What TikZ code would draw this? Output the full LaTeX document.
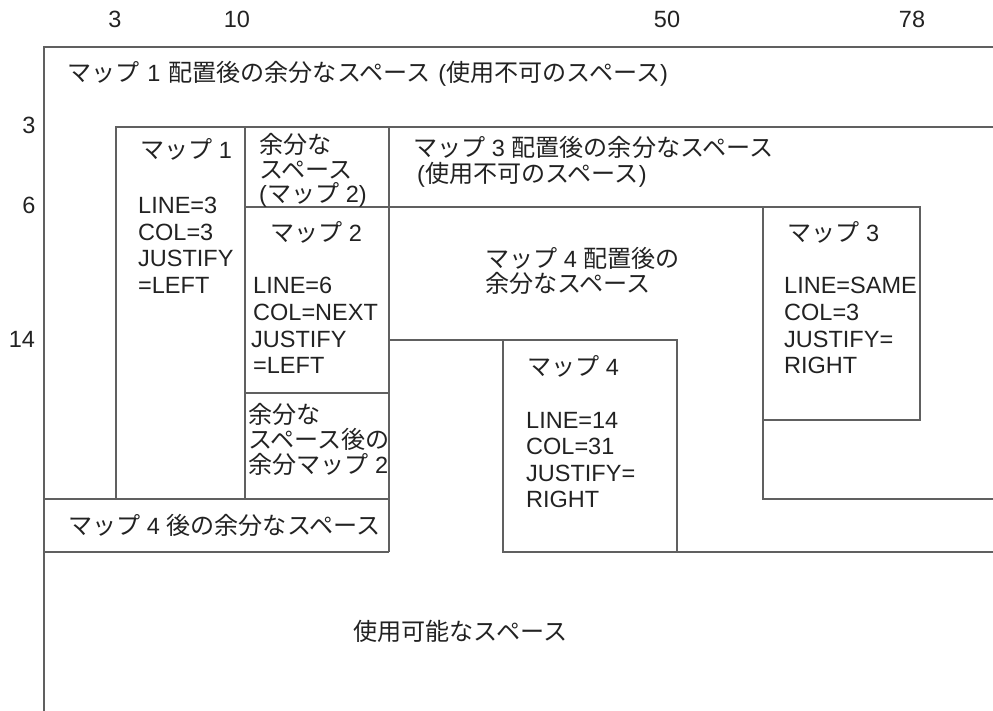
\documentclass[tikz,border=0pt]{standalone}
\usepackage{fontspec}
\setmainfont{Liberation Sans}
\newfontfamily\jp[Scale=1.025]{Noto Sans CJK JP}
\definecolor{ln}{HTML}{606060}
\definecolor{tx}{HTML}{222222}
\begin{document}
\begin{tikzpicture}[x=1pt,y=-1pt,
  lnk/.style={draw=ln,line width=1.4pt},
  lt/.style={anchor=base west,inner sep=0pt,text=tx,font=\fontsize{23.5}{26}\selectfont},
  num/.style={anchor=base,inner sep=0pt,text=tx,font=\fontsize{23.5}{26}\selectfont}]
\useasboundingbox (0,0) rectangle (993,711);
% frame lines
\draw[lnk] (44,711) -- (44,47) -- (993,47);
\draw[lnk] (993,127) -- (116,127) -- (116,499);
\draw[lnk] (245,127) -- (245,499);
\draw[lnk] (389,127) -- (389,552);
\draw[lnk] (245,207) -- (920,207) -- (920,420) -- (763,420);
\draw[lnk] (763,207) -- (763,499) -- (993,499);
\draw[lnk] (245,393) -- (389,393);
\draw[lnk] (44,499) -- (389,499);
\draw[lnk] (44,552) -- (389,552);
\draw[lnk] (389,340) -- (677,340) -- (677,552);
\draw[lnk] (503,340) -- (503,552) -- (993,552);
% scale numbers
\node[num] (c3) at (115,28) {3};
\node[num] (c10) at (237,28) {10};
\node[num] (c50) at (667,28) {50};
\node[num] (c78) at (912,28) {78};
\node[num] (r3) at (29,134) {3};
\node[num] (r6) at (29,214) {6};
\node[num] (r14) at (22,347) {14};
% texts
\node[lt] (t1) at (67,82) {{\jp マップ}\hspace{1.4pt} 1 \hspace{1.4pt}{\jp 配置後の余分なスペース} \hspace{1.4pt}({\jp 使用不可のスペース})};
\node[lt] (m1a) at (140,159) {{\jp マップ} 1};
\node[lt] (m1b) at (138,214) {LINE=3};
\node[lt] (m1c) at (138,240.5) {COL=3};
\node[lt] (m1d) at (138,267) {JUSTIFY};
\node[lt] (m1e) at (138,293.5) {=LEFT};
\node[lt] (e2a) at (259,154) {\jp 余分な};
\node[lt] (e2b) at (259,178.5) {\jp スペース};
\node[lt] (e2c) at (259,203) {({\jp マップ} 2)};
\node[lt] (e3a) at (413,157) {{\jp マップ} 3 {\jp 配置後の余分なスペース}};
\node[lt] (e3b) at (417,183) {({\jp 使用不可のスペース})};
\node[lt] (m2a) at (270,242) {{\jp マップ} 2};
\node[lt] (m2b) at (253,294) {LINE=6};
\node[lt] (m2c) at (253,320.5) {COL=NEXT};
\node[lt] (m2d) at (251,347) {JUSTIFY};
\node[lt] (m2e) at (253,373.5) {=LEFT};
\node[lt] (x2a) at (248,423) {\jp 余分な};
\node[lt] (x2b) at (248,448) {\jp スペース後の};
\node[lt] (x2c) at (248,473) {{\jp 余分マップ} 2};
\node[lt] (e4a) at (485,268) {{\jp マップ} 4 {\jp 配置後の}};
\node[lt] (e4b) at (485,293) {\jp 余分なスペース};
\node[lt] (m3a) at (787,242) {{\jp マップ} 3};
\node[lt] (m3b) at (784,294) {LINE=SAME};
\node[lt] (m3c) at (784,320.5) {COL=3};
\node[lt] (m3d) at (784,347) {JUSTIFY=};
\node[lt] (m3e) at (784,373.5) {RIGHT};
\node[lt] (m4a) at (527,375) {{\jp マップ} 4};
\node[lt] (m4b) at (526,428) {LINE=14};
\node[lt] (m4c) at (526,454.5) {COL=31};
\node[lt] (m4d) at (526,481) {JUSTIFY=};
\node[lt] (m4e) at (526,507.5) {RIGHT};
\node[lt] (a4) at (68,534) {{\jp マップ} 4 {\jp 後の余分なスペース}};
\node[lt] (us) at (353,640) {\jp 使用可能なスペース};
\end{tikzpicture}
\end{document}
